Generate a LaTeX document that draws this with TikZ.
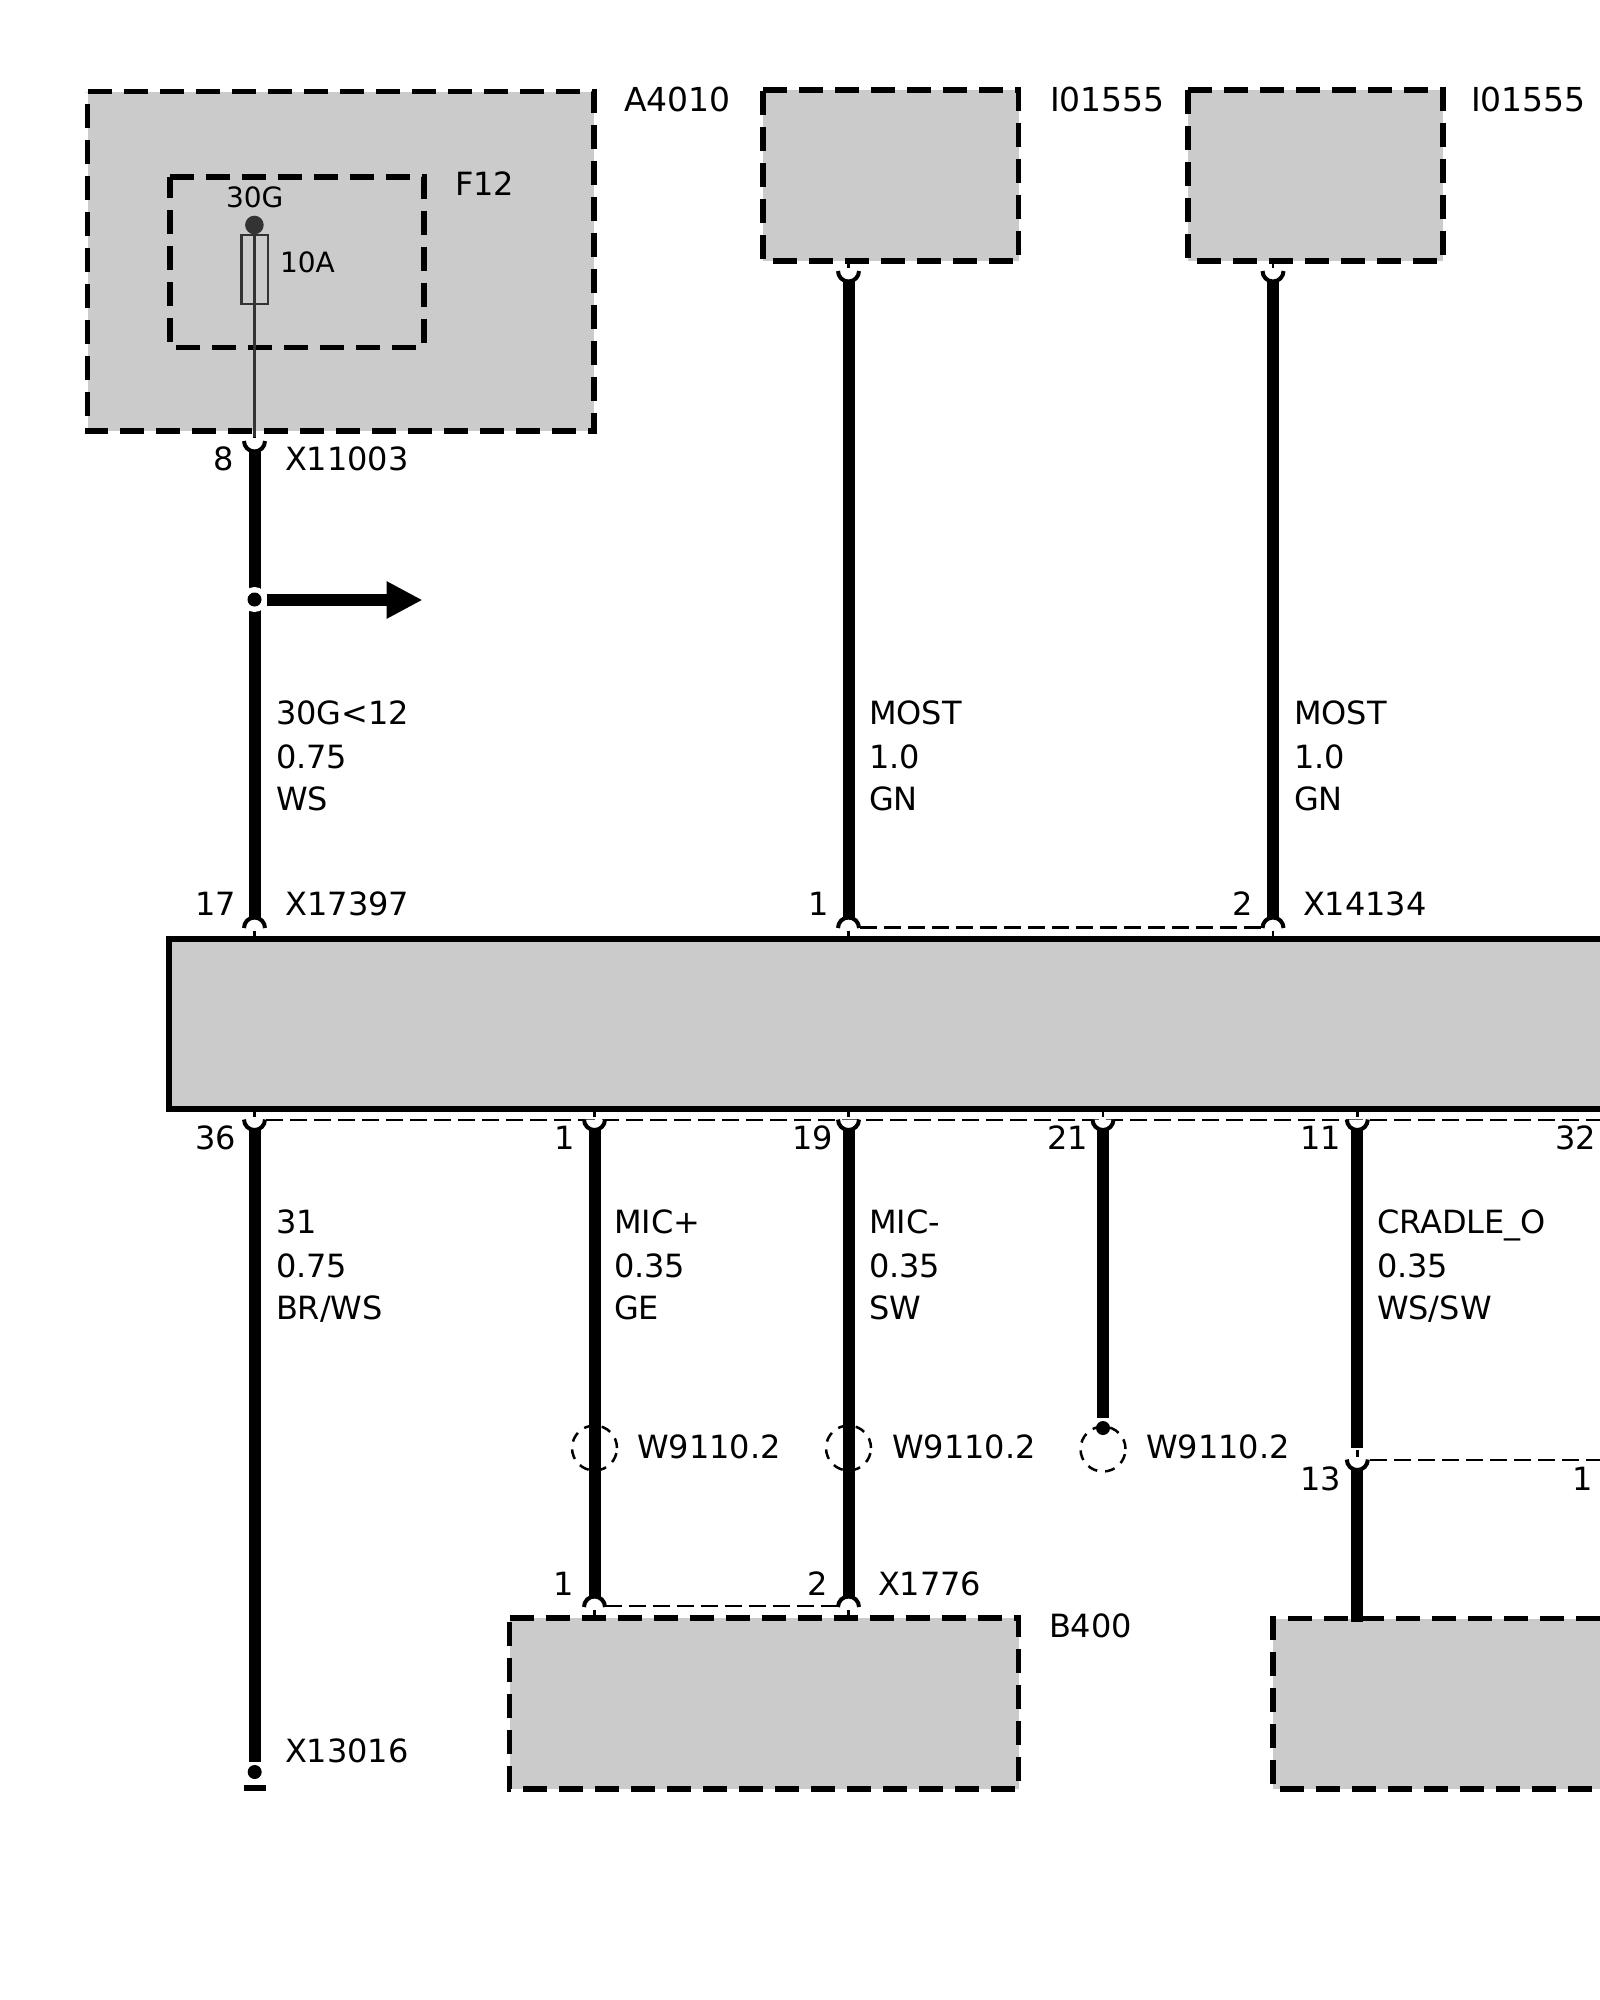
\documentclass[tikz,border=0pt]{standalone}
\usepackage{fontspec}
\setmainfont{DejaVu Sans}
\usetikzlibrary{fit,arrows.meta}
\definecolor{boxgray}{HTML}{CBCBCB}
\definecolor{fusegray}{HTML}{333333}
\tikzset{
  x=1pt,y=-1pt,
  gfill/.style={fill=boxgray,draw=none,inner sep=0pt,outer sep=0pt},
  dashbox/.style={draw=black,line width=5.8pt,dash pattern=on 24pt off 12pt},
  solidbox/.style={draw=black,line width=6pt},
  wire/.style={draw=black,line width=12pt},
  conn/.style={draw=black,line width=2.8pt,dash pattern=on 17pt off 7pt},
  tick/.style={draw=black,line width=2.4pt},
  pinarc/.style={draw=black,fill=white,line width=4pt},
  thin wire/.style={draw=fusegray,line width=2.6pt},
  lbl/.style={font=\fontsize{32}{32}\selectfont,inner sep=0pt,outer sep=0pt,anchor=base west,text=black},
  lblr/.style={lbl,anchor=base east},
  lbls/.style={lbl,font=\fontsize{28}{28}\selectfont},
  lblb/.style={lbl,font=\fontsize{33}{33}\selectfont},
  whitering/.style={circle,fill=white,draw=none,minimum size=25pt,inner sep=0pt},
  pindot/.style={circle,fill=black,draw=none,minimum size=14pt,inner sep=0pt},
  shieldc/.style={circle,draw=black,line width=2.5pt,dash pattern=on 10pt off 8pt,minimum size=45pt,inner sep=0pt},
}
\newcommand{\gbox}[5]{\node[gfill,fit={(#2,#3)(#4,#5)}] (#1) {};
  \draw[dashbox] (#1.north west) -- (#1.north east) -- (#1.south east) -- (#1.south west) -- cycle;}
% pin under a box: cup, wire leaves from the bottom of the cup
\newcommand{\pinDown}[3]{%
  \draw[pinarc] (#2-10.5,#3) arc[start angle=180,end angle=0,radius=10.5];
  \draw[tick] (#2,#3-10) -- (#2,#3-3);
  \coordinate (#1) at (#2,#3+9);}
% pin over a box: cap, wire arrives at the top of the cap
\newcommand{\pinUp}[3]{%
  \draw[pinarc] (#2-10.5,#3) arc[start angle=180,end angle=360,radius=10.5];
  \draw[tick] (#2,#3+3) -- (#2,#3+11.5);
  \coordinate (#1) at (#2,#3-9);}
\begin{document}
\begin{tikzpicture}
\useasboundingbox (0,0) rectangle (1600,2000);
\clip (0,0) rectangle (1600,2000);
% boxes
\gbox{A}{87.5}{91.5}{594}{431}
\gbox{Fb}{169.6}{177}{423.6}{347.5}
\gbox{Ia}{763}{90}{1018.5}{261}
\gbox{Ib}{1188}{90}{1443}{261}
\gbox{B}{509.5}{1618}{1018.5}{1789}
% main unit, running off the right edge
\node[gfill,fit={(169.4,939.3)(1600,1109.3)}] (main) {};
\draw[solidbox] (main.north east) -- (main.north west) -- (main.south west) -- (main.south east);
% cradle box, running off the right edge
\node[gfill,fit={(1273,1618.5)(1600,1789)}] (cb) {};
\draw[dashbox] (cb.north east) -- (cb.north west) -- (cb.south west) -- (cb.south east);
% fuse
\node[circle,fill=fusegray,minimum size=18.6pt,inner sep=0pt] (fdot) at (254.4,225) {};
\node[draw=fusegray,line width=2.6pt,minimum width=26.5pt,minimum height=69pt,inner sep=0pt] (fuse) at (254.6,269.5) {};
% dashed connector bars
\coordinate (barTa) at (860,927.5);
\coordinate (barTb) at (1261,927.5);
\draw[conn] (barTa) -- (barTb);
\coordinate (barBa) at (266,1120);
\coordinate (barBb) at (1600,1120);
\draw[conn] (barBa) -- (barBb);
\coordinate (barXa) at (605,1606);
\coordinate (barXb) at (838,1606);
\draw[conn] (barXa) -- (barXb);
\coordinate (barCa) at (1370,1460);
\coordinate (barCb) at (1600,1460);
\draw[conn] (barCa) -- (barCb);
% pins
\pinDown{p8}{254.5}{441}
\pinDown{pI1}{848.5}{271}
\pinDown{pI2}{1273}{271}
\pinUp{p17}{254.5}{928}
\pinUp{pm1}{848.5}{928}
\pinUp{pm2}{1273}{928}
\pinDown{p36}{254.5}{1119.5}
\pinDown{pb1}{594.5}{1119.5}
\pinDown{pb19}{848.5}{1119.5}
\pinDown{pb21}{1103}{1119.5}
\pinDown{pb11}{1357.3}{1119.5}
\pinDown{pc13}{1357.3}{1459.5}
\pinUp{px1}{594.5}{1607}
\pinUp{px2}{848.5}{1607}
% thin wire through fuse
\coordinate (p8t) at (254.4,437);
\draw[thin wire] (fdot) -- (p8t);
% wires
\draw[wire] (p8) -- (p17);
\draw[wire] (pI1) -- (pm1);
\draw[wire] (pI2) -- (pm2);
\coordinate (endGnd) at (254.5,1762);
\draw[wire] (p36) -- (endGnd);
\draw[wire] (pb1) -- (px1);
\draw[wire] (pb19) -- (px2);
\coordinate (end21) at (1103,1418);
\draw[wire] (pb21) -- (end21);
\coordinate (end11) at (1357.3,1448);
\draw[wire] (pb11) -- (end11);
\coordinate (cbIn) at (1357.3,1622);
\draw[wire] (pc13) -- (cbIn);
% splice with arrow
\node[whitering] (spw) at (254.5,599.5) {};
\node[pindot] (sp) at (254.5,599.5) {};
\coordinate (arrTip) at (422.5,600);
\draw[line width=12pt,draw=black,-{Triangle[length=36pt,width=35pt]}] (266.5,600) -- (arrTip);
% ground end
\node[pindot] (gnd) at (254.7,1772) {};
\draw[line width=6pt,draw=black] (244.3,1788) -- (265.7,1788);
% shields
\node[shieldc] (s1) at (594.5,1448) {};
\node[shieldc] (s2) at (848.5,1448) {};
\node[shieldc] (s3) at (1103,1449) {};
\node[pindot] (d21) at (1103,1428) {};
% labels
\node[lblb] (tA) at (624,111) {A4010};
\node[lblb] (tIa) at (1050,111) {I01555};
\node[lblb] (tIb) at (1471,111) {I01555};
\node[lbl] (tF) at (455,195) {F12};
\node[lbls] (t30) at (226,207) {30G};
\node[lbls] (t10) at (280,272) {10A};
\node[lblr] (n8) at (234,470.5) {8};
\node[lbl] (tX1) at (285,470.5) {X11003};
\node[lbl] at (276,724) {30G<12};
\node[lbl] at (276,768) {0.75};
\node[lbl] at (276,810) {WS};
\node[lbl] at (869,724) {MOST};
\node[lbl] at (869,768) {1.0};
\node[lbl] at (869,810) {GN};
\node[lbl] at (1294,724) {MOST};
\node[lbl] at (1294,768) {1.0};
\node[lbl] at (1294,810) {GN};
\node[lblr] at (236,915) {17};
\node[lbl] at (285.5,915) {X17397};
\node[lblr] at (829,915) {1};
\node[lblr] at (1253,915) {2};
\node[lbl] at (1303,915) {X14134};
\node[lblr] at (236,1149) {36};
\node[lblr] at (575,1149) {1};
\node[lblr] at (833,1149) {19};
\node[lblr] at (1088,1149) {21};
\node[lblr] at (1341,1149) {11};
\node[lblr] at (1596,1149) {32};
\node[lbl] at (276,1233) {31};
\node[lbl] at (276,1277) {0.75};
\node[lbl] at (276,1319) {BR/WS};
\node[lbl] at (614,1233) {MIC+};
\node[lbl] at (614,1277) {0.35};
\node[lbl] at (614,1319) {GE};
\node[lbl] at (869,1233) {MIC-};
\node[lbl] at (869,1277) {0.35};
\node[lbl] at (869,1319) {SW};
\node[lbl] at (1377,1233) {CRADLE\_O};
\node[lbl] at (1377,1277) {0.35};
\node[lbl] at (1377,1319) {WS/SW};
\node[lbl] at (637,1458) {W9110.2};
\node[lbl] at (892,1458) {W9110.2};
\node[lbl] at (1146,1458) {W9110.2};
\node[lblr] at (1341,1490.5) {13};
\node[lblr] at (1593,1490.5) {1};
\node[lblr] at (574,1595) {1};
\node[lblr] at (828,1595) {2};
\node[lbl] at (878,1595) {X1776};
\node[lbl] at (1049,1637) {B400};
\node[lbl] at (285,1762) {X13016};
\end{tikzpicture}
\end{document}
